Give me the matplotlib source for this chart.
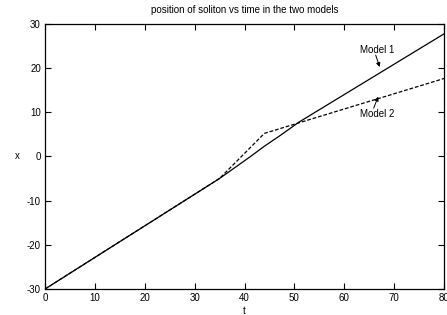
import matplotlib
matplotlib.use("Agg")
import matplotlib.pyplot as plt

plt.rcParams['font.family'] = ['Liberation Sans', 'DejaVu Sans']
plt.rcParams['axes.unicode_minus'] = False

# position vs time
t_model1 = [0, 35, 38, 41, 44, 47, 49, 51, 80]
x_model1 = [-30, -5.0, -2.6, -0.2, 2.3, 4.6, 6.2, 7.8, 27.7]

t_model2 = [0, 35, 44, 80]
x_model2 = [-30, -5.0, 5.2, 17.6]

xticks = [0, 10, 20, 30, 40, 50, 60, 70, 80]
yticks = [-30, -20, -10, 0, 10, 20, 30]

fig = plt.figure(figsize=(4.47, 3.15), dpi=100)
ax = fig.add_axes([0.1007, 0.0825, 0.8926, 0.8423])

ax.plot(t_model1, x_model1, color='black', lw=0.9)
ax.plot(t_model2, x_model2, color='black', lw=0.9, linestyle=(0, (3, 1.5)))

ax.set_xlim(0, 80)
ax.set_ylim(-30, 30)
ax.set_xticks(xticks)
ax.set_yticks(yticks)
ax.tick_params(direction='in', length=4, width=0.8, top=True, right=True,
               labelsize=7, pad=3)
for s in ax.spines.values():
    s.set_linewidth(0.9)

ax.set_xlabel("t", fontsize=7, labelpad=2)
ax.set_ylabel("x", fontsize=7, labelpad=7, rotation=0, va='center')
ax.set_title("position of soliton vs time in the two models", fontsize=7, pad=8)

# labels with slanted arrows, gnuplot style
arrow = dict(arrowstyle='-|>', color='black', lw=0.7, mutation_scale=6,
             shrinkA=0, shrinkB=0)
ax.text(66.6, 24.0, "Model 1", fontsize=7, ha='center', va='center')
ax.annotate("", xy=(67.1, 20.2), xytext=(66.3, 22.9), arrowprops=arrow)
ax.text(66.6, 9.6, "Model 2", fontsize=7, ha='center', va='center')
ax.annotate("", xy=(66.8, 13.5), xytext=(65.9, 10.9), arrowprops=arrow)

fig.savefig("out.png", dpi=100)
